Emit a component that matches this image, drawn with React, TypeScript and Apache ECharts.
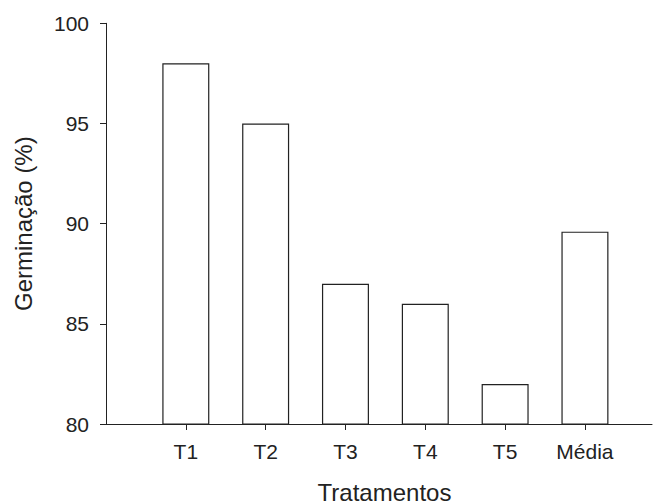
import React, { useEffect, useRef } from "react";
import * as echarts from "echarts";

const categories = ["T1", "T2", "T3", "T4", "T5", "Média"];
const germinacao = [98, 95, 87, 86, 82, 89.6];
const yTicks = [80, 85, 90, 95, 100];

export default function App() {
  const ref = useRef<HTMLDivElement>(null);
  useEffect(() => {
    if (!ref.current) return;
    const chart = echarts.init(ref.current, undefined, { renderer: "svg" });
    const positions = categories.map((_, i) => i + 1);
    const textColor = "#222";
    const font = "'Liberation Sans', Arial, sans-serif";
    chart.setOption({
      animation: false,
      backgroundColor: "#ffffff",
      grid: { left: 106, top: 23.3, right: 1, bottom: 80, containLabel: false, outerBoundsMode: "none" },
      xAxis: {
        type: "value",
        min: 0,
        max: 6.84,
        interval: 1,
        name: "Tratamentos",
        nameLocation: "middle",
        nameGap: 56,
        nameTextStyle: { color: textColor, fontSize: 24, fontFamily: font, padding: [0, 0, 0, 11] },
        splitLine: { show: false },
        axisLine: { show: true, lineStyle: { color: "#222", width: 1 } },
        axisTick: { show: true, length: 6, inside: false, customValues: positions, lineStyle: { color: "#222" } },
        axisLabel: {
          customValues: positions,
          margin: 17,
          color: textColor,
          fontSize: 21,
          fontFamily: font,
          formatter: (v: number) => categories[Math.round(v) - 1] ?? "",
        },
      },
      yAxis: {
        type: "value",
        min: yTicks[0],
        max: yTicks[yTicks.length - 1],
        interval: 5,
        name: "Germinação (%)",
        nameLocation: "middle",
        nameGap: 71,
        nameTextStyle: { color: textColor, fontSize: 24, fontFamily: font },
        splitLine: { show: false },
        axisLine: { show: true, lineStyle: { color: "#222", width: 1 } },
        axisTick: { show: true, length: 6, inside: false, lineStyle: { color: "#222" } },
        axisLabel: { margin: 17, color: textColor, fontSize: 21, fontFamily: font },
      },
      series: [
        {
          type: "bar",
          data: categories.map((_, i) => [positions[i], germinacao[i]]),
          barWidth: 47,
          itemStyle: { color: "#ffffff", borderColor: "#222", borderWidth: 1.2 },
        },
      ],
    });
    return () => chart.dispose();
  }, []);
  return (
    <div
      ref={ref}
      style={{ position: "absolute", left: 0, top: 0, width: 653, height: 504 }}
    />
  );
}
